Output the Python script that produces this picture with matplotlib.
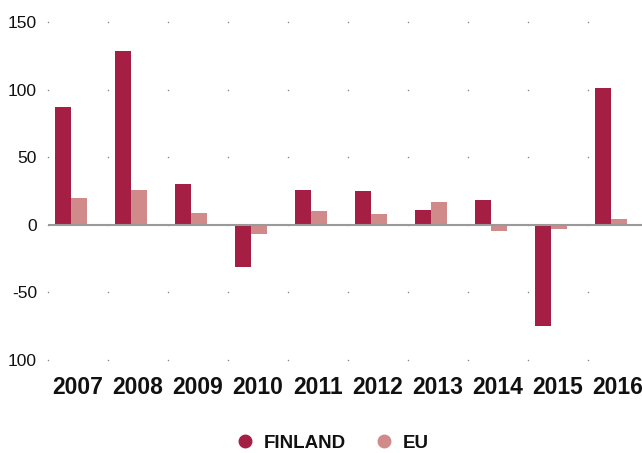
import matplotlib
matplotlib.use("Agg")
import matplotlib.pyplot as plt
from matplotlib.lines import Line2D
import numpy as np

years = ["2007", "2008", "2009", "2010", "2011", "2012", "2013", "2014", "2015", "2016"]
finland = [87, 129, 30, -31, 26, 25, 11, 18, -75, 101]
eu = [20, 26, 9, -7, 10, 8, 17, -5, -3, 4]
y_ticks = [150, 100, 50, 0, -50, -100]
y_tick_labels = ["150", "100", "50", "0", "-50", "100"]

c_fin = "#a51f45"
c_eu = "#d08a8a"

plt.rcParams["font.family"] = ["Liberation Sans", "DejaVu Sans"]

fig = plt.figure(figsize=(6.42, 4.53), dpi=100)
ax = fig.add_axes([48/642, (453-359.7)/453, 594/642, 337.4/453])

x = np.arange(len(years))
w = 0.267
ax.bar(x - 0.255, finland, width=w, color=c_fin, zorder=3)
ax.bar(x + 0.012, eu, width=w, color=c_eu, zorder=3)

ax.set_xlim(-0.5, 9.4)
ax.set_ylim(-100, 150)

# dotted grid intersections
gx, gy = np.meshgrid(np.arange(-0.5, 9.5, 1.0), y_ticks)
ax.scatter(gx.ravel(), gy.ravel(), s=1.2, color="#888888", zorder=1, clip_on=False, linewidths=0)

ax.axhline(0, color="#9a9a9a", lw=1.5, zorder=4)

for s in ax.spines.values():
    s.set_visible(False)
ax.set_yticks(y_ticks)
ax.set_yticklabels(y_tick_labels, fontsize=12.5, color="#111111")
ax.tick_params(axis="y", length=0, pad=8)
ax.set_xticks(x)
ax.set_xticklabels(years, fontsize=16.5, fontweight="bold", color="#111111")
ax.tick_params(axis="x", length=0, pad=12)

handles = [Line2D([], [], marker="o", linestyle="none", markersize=9, color=c_fin),
           Line2D([], [], marker="o", linestyle="none", markersize=9, color=c_eu)]
leg = fig.legend(handles, ["FINLAND", "EU"], loc="center", bbox_to_anchor=(0.516, 1-443/453),
                 ncol=2, frameon=False, handletextpad=0.4, columnspacing=1.4,
                 prop={"size": 13.5, "weight": "bold"}, handlelength=1.2)
for t in leg.get_texts():
    t.set_color("#111111")

fig.savefig("out.png", dpi=100)
